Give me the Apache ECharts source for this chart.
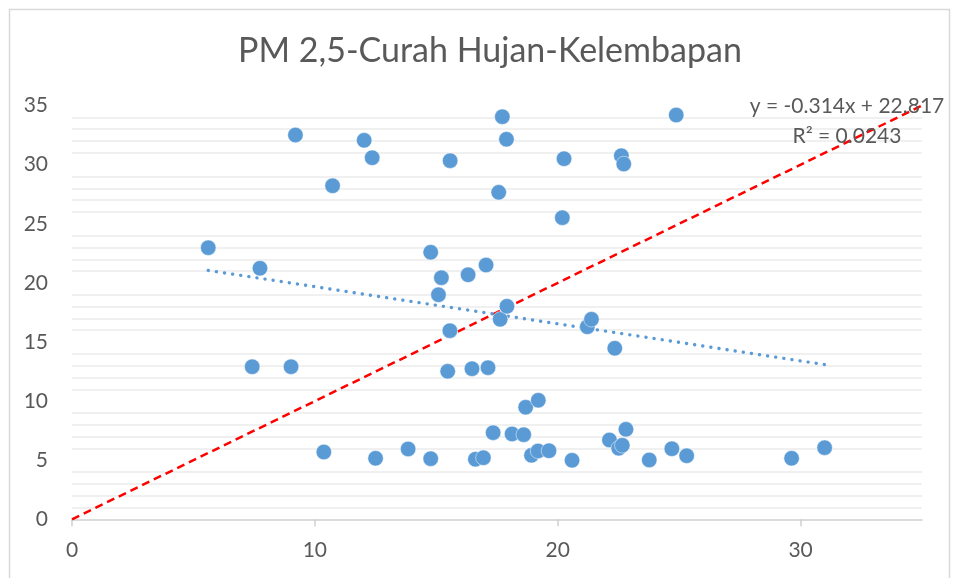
<!DOCTYPE html>
<html>
<head>
<meta charset="utf-8">
<script src="https://cdn.jsdelivr.net/npm/echarts@6.0.0/dist/echarts.min.js"></script>
<style>
  html, body { margin: 0; padding: 0; background: #ffffff; }
  #chart { width: 954px; height: 578px; }
</style>
</head>
<body>
<div id="chart"></div>
<script>
// ---- Data ----
var chartTitle = 'PM 2,5-Curah Hujan-Kelembapan';
var xValues = [5.61, 7.42, 7.74, 9.02, 9.2, 10.37, 10.73, 12.03, 12.36, 12.5,
  13.84, 14.77, 14.77, 15.09, 15.21, 15.47, 15.56, 15.57, 16.31, 16.47,
  16.61, 16.94, 17.05, 17.13, 17.34, 17.57, 17.63, 17.72, 17.89, 17.91,
  18.12, 18.6, 18.68, 18.92, 19.19, 19.2, 19.64, 20.19, 20.26, 20.59,
  21.22, 21.39, 22.13, 22.35, 22.51, 22.62, 22.66, 22.72, 22.81, 23.77,
  24.70, 24.88, 25.31, 29.63, 30.99];
var yValues = [22.98, 12.91, 21.24, 12.91, 32.51, 5.69, 28.22, 32.06, 30.59, 5.16,
  5.95, 22.59, 5.13, 19.0, 20.44, 12.52, 15.96, 30.34, 20.69, 12.74,
  5.08, 5.21, 21.51, 12.83, 7.33, 27.66, 16.92, 34.06, 32.15, 18.02,
  7.22, 7.16, 9.48, 5.41, 5.78, 10.07, 5.80, 25.52, 30.51, 4.99,
  16.29, 16.92, 6.71, 14.47, 6.01, 30.76, 6.26, 30.06, 7.61, 5.02,
  5.97, 34.2, 5.38, 5.16, 6.06];
var trendSlope = -0.314;
var trendIntercept = 22.817;
var trendR2 = '0.0243';
var identityRange = [0, 35];
var xTickLabels = [0, 10, 20, 30];
var yTickLabels = [0, 5, 10, 15, 20, 25, 30, 35];

// ---- Build series data ----
var points = xValues.map(function (x, i) { return [x, yValues[i]]; });
var xMin = Math.min.apply(null, xValues);
var xMax = Math.max.apply(null, xValues);
var trendData = [[xMin, trendSlope * xMin + trendIntercept], [xMax, trendSlope * xMax + trendIntercept]];
var identityData = identityRange.map(function (v) { return [v, v]; });
var eqText = 'y = ' + trendSlope + 'x + ' + trendIntercept;
var r2Text = 'R\u00B2 = ' + trendR2;

var textColor = '#595959';
var fontFam = 'Lato, "Open Sans", sans-serif';

var chart = echarts.init(document.getElementById('chart'), null, { renderer: 'canvas' });
chart.setOption({
  backgroundColor: '#ffffff',
  animation: false,
  title: {
    text: chartTitle,
    left: 485,
    top: 29,
    textAlign: 'center',
    textStyle: { color: textColor, fontSize: 34, fontWeight: 'normal', fontFamily: fontFam }
  },
  grid: { left: 72, right: 32, top: 105.6, bottom: 58.7, containLabel: false },
  xAxis: {
    type: 'value',
    min: 0, max: 35, interval: 10,
    axisLine: { show: true, onZero: false, lineStyle: { color: '#d0d0d0', width: 1.5 } },
    axisTick: { show: true, customValues: xTickLabels, length: 7, lineStyle: { color: '#d0d0d0', width: 1.5 } },
    axisLabel: { customValues: xTickLabels, color: textColor, fontSize: 21, fontFamily: fontFam, margin: 20 },
    splitLine: { show: false }
  },
  yAxis: {
    type: 'value',
    min: 0, max: 35, interval: 5,
    axisLine: { show: false },
    axisTick: { show: false },
    axisLabel: { customValues: yTickLabels, color: textColor, fontSize: 21, fontFamily: fontFam, margin: 24 },
    splitLine: { show: false },
    minorTick: { show: false, splitNumber: 5 },
    minorSplitLine: { show: true, lineStyle: { color: '#f0f0f0', width: 2 } }
  },
  series: [
    {
      type: 'line',
      data: identityData,
      symbol: 'none',
      silent: true,
      lineStyle: { color: '#ff0000', width: 2.5, type: [8, 5] },
      z: 3
    },
    {
      type: 'line',
      data: trendData,
      symbol: 'none',
      silent: true,
      lineStyle: { color: '#5b9bd5', width: 3.4, type: [0.1, 8.1], cap: 'round' },
      z: 3
    },
    {
      type: 'scatter',
      data: points,
      symbolSize: 15.5,
      itemStyle: { color: '#5b9bd5', borderColor: 'rgba(255,255,255,0.6)', borderWidth: 0.8, opacity: 1 },
      z: 4
    }
  ],
  graphic: [
    {
      type: 'rect',
      left: 7, top: 7,
      shape: { width: 940, height: 600 },
      style: { fill: 'none', stroke: '#d9d9d9', lineWidth: 1.5 },
      silent: true, z: 0
    },
    {
      type: 'text',
      x: 847, y: 106,
      style: { text: eqText, fill: textColor, font: '21px ' + fontFam, align: 'center', verticalAlign: 'middle' },
      z: 10
    },
    {
      type: 'text',
      x: 847, y: 136,
      style: { text: r2Text, fill: textColor, font: '21px ' + fontFam, align: 'center', verticalAlign: 'middle' },
      z: 10
    }
  ]
});
</script>
</body>
</html>
